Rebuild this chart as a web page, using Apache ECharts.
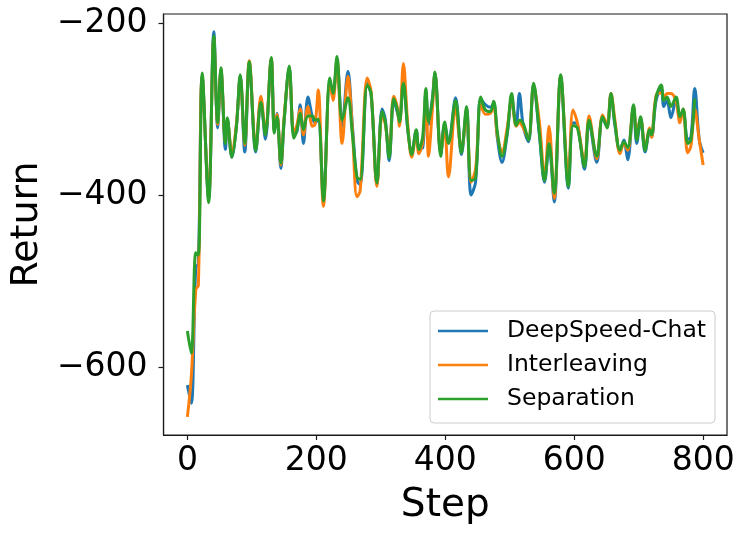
<!DOCTYPE html>
<html>
<head>
<meta charset="utf-8">
<script src="https://cdn.jsdelivr.net/npm/echarts@6/dist/echarts.min.js"></script>
<style>
  html, body { margin: 0; padding: 0; background: #fff; }
  #main { width: 748px; height: 536px; }
</style>
</head>
<body>
<div id="main"></div>
<script>
var steps = [0, 6, 13, 17, 23, 33, 41, 47, 52, 59, 62, 69, 76, 82, 89, 96, 106, 114, 121, 130,
  135, 139, 145, 150, 158, 165, 170, 175, 180, 187, 194, 198, 203, 211, 221, 226, 232, 240, 249, 256,
  263, 268, 279, 285, 294, 302, 307, 313, 320, 325, 329, 335, 342, 348, 355, 359, 365, 370, 374, 380,
  384, 393, 399, 405, 416, 425, 433, 440, 447, 455, 462, 470, 475, 481, 488, 496, 503, 510, 515, 521,
  529, 537, 546, 554, 561, 569, 579, 591, 598, 605, 616, 623, 635, 644, 651, 657, 663, 671, 677, 683,
  692, 697, 703, 710, 717, 720, 727, 735, 739, 744, 750, 758, 764, 769, 776, 781, 787, 794, 800];

var deepspeedChat = [-621, -642, -484, -480, -262, -405, -210, -322, -255, -347, -312, -356, -320, -262, -350, -247, -350, -290, -335, -242,
  -326, -305, -369, -315, -252, -330, -326, -295, -340, -286, -310, -316, -312, -405, -270, -278, -245, -320, -256, -320,
  -383, -388, -270, -284, -388, -300, -312, -360, -290, -302, -312, -265, -326, -350, -325, -346, -345, -280, -318, -288,
  -258, -352, -318, -338, -287, -353, -300, -400, -385, -288, -295, -298, -293, -335, -362, -330, -290, -318, -282, -320,
  -338, -272, -330, -385, -342, -408, -262, -392, -316, -318, -370, -315, -362, -311, -320, -284, -318, -349, -336, -359,
  -297, -340, -312, -350, -326, -332, -290, -276, -297, -290, -310, -289, -312, -302, -335, -333, -276, -336, -351];

var interleaving = [-658, -612, -510, -505, -262, -402, -218, -318, -254, -338, -314, -350, -318, -264, -342, -244, -345, -285, -328, -241,
  -324, -306, -365, -310, -255, -328, -318, -300, -330, -297, -320, -318, -278, -413, -268, -290, -243, -340, -262, -325,
  -402, -395, -264, -280, -390, -306, -318, -352, -285, -296, -320, -247, -320, -356, -330, -352, -338, -285, -355, -300,
  -259, -350, -322, -379, -300, -348, -305, -385, -370, -295, -306, -305, -296, -332, -350, -322, -288, -320, -316, -322,
  -334, -274, -315, -380, -320, -404, -262, -380, -301, -316, -362, -308, -358, -307, -318, -282, -312, -352, -340, -348,
  -298, -324, -312, -345, -322, -333, -284, -281, -286, -282, -282, -291, -316, -300, -351, -343, -300, -336, -365];

var separation = [-558, -584, -467, -470, -258, -409, -215, -316, -252, -340, -310, -356, -321, -260, -340, -245, -348, -292, -330, -240,
  -328, -309, -363, -313, -250, -334, -324, -305, -324, -308, -308, -313, -312, -407, -264, -282, -239, -313, -287, -330,
  -379, -382, -272, -282, -386, -303, -315, -357, -288, -299, -315, -270, -324, -353, -324, -347, -332, -276, -315, -290,
  -257, -355, -315, -340, -290, -351, -297, -383, -380, -286, -301, -303, -291, -328, -355, -328, -282, -319, -313, -317,
  -336, -270, -328, -383, -340, -398, -260, -390, -319, -322, -367, -313, -355, -309, -322, -282, -316, -348, -338, -345,
  -295, -336, -309, -348, -324, -330, -286, -272, -290, -286, -297, -286, -309, -300, -340, -336, -288, null, null];

var seriesNames = ['DeepSpeed-Chat', 'Interleaving', 'Separation'];
var seriesColors = ['#1f77b4', '#ff7f0e', '#2ca02c'];
var xTicks = [0, 200, 400, 600, 800];
var yTicks = [-600, -400, -200];

var FONT = 'DejaVu Sans';
var chart = echarts.init(document.getElementById('main'));

function pairs(vals) {
  return steps.map(function (s, i) { return [s, vals[i]]; });
}

var values = [deepspeedChat, interleaving, separation];

chart.setOption({
  animation: false,
  grid: {
    left: 163, right: 21, top: 14, bottom: 101,
    show: true, borderColor: '#1a1a1a', borderWidth: 1.2, backgroundColor: 'transparent'
  },
  legend: {
    orient: 'vertical',
    left: 430, top: 311,
    padding: [8, 9, 12, 8],
    itemGap: 10,
    itemWidth: 50, itemHeight: 2.5,
    icon: 'rect',
    backgroundColor: 'rgba(255,255,255,0.8)',
    borderColor: '#cccccc', borderWidth: 1, borderRadius: 4,
    textStyle: { fontFamily: FONT, fontSize: 23.5, color: '#000', lineHeight: 24, padding: [0, 0, 0, 14] },
    data: seriesNames
  },
  xAxis: {
    type: 'value',
    min: -37, max: 837,
    name: 'Step', nameLocation: 'middle', nameGap: 51,
    nameTextStyle: { fontFamily: FONT, fontSize: 39, color: '#000' },
    axisLine: { onZero: false, lineStyle: { color: '#1a1a1a', width: 1.2 } },
    axisTick: { customValues: xTicks, length: 5, lineStyle: { color: '#1a1a1a', width: 1.2 } },
    axisLabel: { customValues: xTicks, margin: 10, fontFamily: FONT, fontSize: 33, color: '#000' },
    splitLine: { show: false }
  },
  yAxis: {
    type: 'value',
    min: -679, max: -189.5,
    name: 'Return', nameLocation: 'middle', nameGap: 105,
    nameTextStyle: { fontFamily: FONT, fontSize: 38, color: '#000' },
    axisLine: { show: true, onZero: false, lineStyle: { color: '#1a1a1a', width: 1.2 } },
    axisTick: { show: true, customValues: yTicks, length: 5, lineStyle: { color: '#1a1a1a', width: 1.2 } },
    axisLabel: {
      customValues: yTicks, margin: 16, fontFamily: FONT, fontSize: 33, color: '#000',
      formatter: function (v) { return String(v).replace('-', '\u2212'); }
    },
    splitLine: { show: false }
  },
  series: seriesNames.map(function (name, i) {
    return {
      name: name,
      type: 'line',
      data: pairs(values[i]),
      showSymbol: false,
      smooth: 0.35,
      connectNulls: false,
      color: seriesColors[i],
      lineStyle: { width: 3, color: seriesColors[i] },
      itemStyle: { color: seriesColors[i] }
    };
  })
});
</script>
</body>
</html>
